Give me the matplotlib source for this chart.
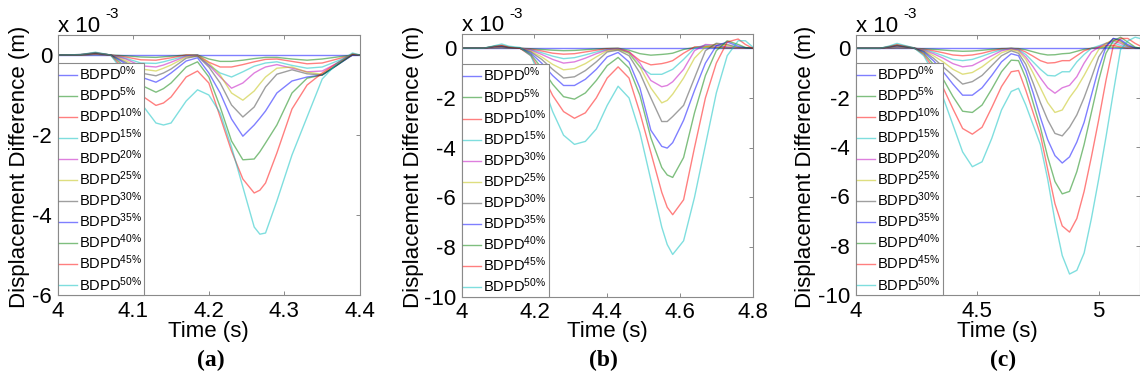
import numpy as np
import matplotlib
matplotlib.use('Agg')
import matplotlib.pyplot as plt

plt.rcParams['font.family'] = ['Liberation Sans', 'DejaVu Sans']
plt.rcParams['mathtext.fontset'] = 'custom'
plt.rcParams['mathtext.rm'] = 'Liberation Sans'
plt.rcParams['mathtext.default'] = 'regular'
plt.rcParams['axes.unicode_minus'] = False

# ---------------- data (x 1e-3 m) ----------------
pct_a = ['0', '5', '10', '15', '20', '25', '30', '35', '40', '45', '50']
pct_b = ['0', '5', '10', '15', '30', '25', '30', '35', '40', '45', '50']
pct_c = ['0', '5', '10', '15', '20', '25', '30', '35', '40', '45', '50']

# panel (a)
t_a = [4.00, 4.03, 4.05, 4.07, 4.09, 4.11, 4.13, 4.14, 4.15, 4.17, 4.185, 4.20, 4.215,
       4.23, 4.245, 4.26, 4.2675, 4.275, 4.29, 4.31, 4.33, 4.35, 4.37, 4.39, 4.40]
a_00 = [0, 0, 0, 0, 0, 0, 0, 0, 0, 0, 0, 0, 0, 0, 0, 0, 0, 0, 0, 0, 0, 0, 0, 0, 0]
a_05 = [0, 0.0, 0.01, 0.0, -0.02, -0.05, -0.06, -0.045, -0.03, 0.0, 0.0, -0.1, -0.16, -0.16, -0.13, -0.09, -0.075, -0.06, -0.06, -0.1, -0.13, -0.1, -0.05, 0.0, 0.0]
a_10 = [0, 0.0, 0.02, 0.0, -0.05, -0.12, -0.13, -0.1, -0.07, 0.0, 0.0, -0.18, -0.3, -0.3, -0.24, -0.17, -0.14, -0.11, -0.1, -0.16, -0.22, -0.2, -0.1, 0.0, 0.0]
a_15 = [0, 0.0, 0.03, 0.0, -0.08, -0.2, -0.21, -0.17, -0.12, -0.02, 0.0, -0.25, -0.45, -0.55, -0.42, -0.28, -0.24, -0.2, -0.17, -0.26, -0.33, -0.3, -0.15, 0.0, 0.0]
a_20 = [0, 0.0, 0.03, 0.0, -0.1, -0.27, -0.3, -0.25, -0.18, -0.03, -0.01, -0.25, -0.55, -0.83, -0.7, -0.45, -0.37, -0.3, -0.24, -0.33, -0.42, -0.4, -0.2, 0.0, 0.0]
a_25 = [0, 0.0, 0.04, 0.0, -0.14, -0.35, -0.4, -0.33, -0.25, -0.05, -0.02, -0.2, -0.5, -0.95, -1.13, -0.9, -0.72, -0.55, -0.33, -0.3, -0.43, -0.48, -0.23, 0.0, 0.0]
a_30 = [0, 0.0, 0.04, 0.0, -0.18, -0.45, -0.52, -0.45, -0.35, -0.08, -0.03, -0.3, -0.7, -1.25, -1.55, -1.3, -1.05, -0.8, -0.48, -0.37, -0.47, -0.5, -0.25, 0.0, 0.0]
a_35 = [0, 0.01, 0.05, 0.0, -0.22, -0.55, -0.68, -0.58, -0.45, -0.15, -0.07, -0.45, -0.95, -1.6, -2.03, -1.75, -1.58, -1.4, -0.95, -0.65, -0.55, -0.5, -0.25, 0.0, 0.0]
a_40 = [0, 0.01, 0.05, 0.0, -0.3, -0.75, -0.93, -0.84, -0.7, -0.3, -0.17, -0.55, -1.3, -2.15, -2.62, -2.6, -2.42, -2.2, -1.75, -0.95, -0.58, -0.5, -0.25, 0.02, 0.0]
a_45 = [0, 0.01, 0.06, 0.0, -0.4, -1.0, -1.26, -1.2, -1.05, -0.55, -0.4, -0.7, -1.55, -2.4, -3.1, -3.45, -3.38, -3.2, -2.45, -1.35, -0.75, -0.45, -0.2, 0.03, 0.0]
a_50 = [0, 0.01, 0.07, 0.0, -0.5, -1.2, -1.7, -1.75, -1.7, -1.15, -0.87, -1.0, -1.45, -2.3, -3.3, -4.3, -4.48, -4.45, -3.65, -2.5, -1.55, -0.6, -0.2, 0.05, 0.0]

# panel (b)
t_b = [4.00, 4.06, 4.09, 4.11, 4.13, 4.16, 4.19, 4.22, 4.25, 4.28, 4.31, 4.34, 4.37, 4.40,
       4.43, 4.46, 4.49, 4.52, 4.55, 4.565, 4.58, 4.61, 4.64, 4.67, 4.70, 4.73, 4.76, 4.78, 4.80]
b_00 = [0, 0, 0, 0, 0, 0, 0, 0, 0, 0, 0, 0, 0, 0, 0, 0, 0, 0, 0, 0, 0, 0, 0, 0, 0, 0, 0, 0, 0]
b_05 = [0, 0.0, 0.01, 0.015, 0.0, 0.0, -0.02, -0.05, -0.08, -0.1, -0.09, -0.06, -0.03, -0.01, 0.0, -0.08, -0.22, -0.28, -0.25, -0.23, -0.2, -0.05, 0.03, 0.04, 0.02, 0.0, 0.0, 0.0, 0.0]
b_10 = [0, 0.0, 0.02, 0.03, 0.01, 0.0, -0.04, -0.11, -0.2, -0.24, -0.22, -0.15, -0.08, -0.02, -0.01, -0.15, -0.5, -0.67, -0.62, -0.57, -0.5, -0.2, 0.05, 0.08, 0.05, 0.02, 0.0, 0.0, 0.0]
b_15 = [0, 0.0, 0.03, 0.04, 0.01, 0.0, -0.06, -0.18, -0.32, -0.42, -0.38, -0.27, -0.15, -0.05, -0.02, -0.2, -0.75, -1.05, -1.05, -0.95, -0.85, -0.45, 0.0, 0.12, 0.1, 0.03, 0.0, 0.0, 0.0]
b_20 = [0, 0.0, 0.04, 0.05, 0.02, 0.0, -0.08, -0.25, -0.45, -0.6, -0.55, -0.4, -0.22, -0.07, -0.03, -0.15, -0.6, -1.3, -1.55, -1.5, -1.35, -0.85, -0.1, 0.15, 0.13, 0.05, 0.0, 0.0, 0.0]
b_25 = [0, 0.0, 0.05, 0.06, 0.02, 0.0, -0.12, -0.35, -0.65, -0.87, -0.82, -0.62, -0.35, -0.1, -0.05, -0.2, -0.75, -1.6, -2.2, -2.1, -1.85, -1.2, -0.4, 0.05, 0.17, 0.1, 0.02, 0.0, 0.0]
b_30 = [0, 0.0, 0.06, 0.07, 0.02, 0.0, -0.15, -0.45, -0.85, -1.2, -1.15, -0.9, -0.55, -0.15, -0.08, -0.3, -1.0, -2.0, -2.95, -2.95, -2.75, -2.3, -1.2, -0.1, 0.2, 0.15, 0.03, 0.0, 0.0]
b_35 = [0, 0.0, 0.07, 0.08, 0.03, 0.0, -0.2, -0.6, -1.1, -1.5, -1.5, -1.25, -0.85, -0.35, -0.17, -0.55, -1.6, -3.3, -3.95, -4.02, -3.8, -2.9, -1.7, -0.6, 0.1, 0.25, 0.08, 0.02, 0.0]
b_40 = [0, 0.0, 0.08, 0.1, 0.04, 0.0, -0.25, -0.8, -1.45, -1.95, -2.05, -1.8, -1.3, -0.7, -0.37, -0.8, -1.9, -3.6, -4.8, -5.1, -5.2, -4.4, -2.6, -1.1, -0.1, 0.3, 0.15, 0.03, 0.0]
b_45 = [0, 0.0, 0.08, 0.12, 0.05, 0.0, -0.3, -1.0, -1.9, -2.55, -2.82, -2.6, -2.0, -1.2, -0.75, -1.2, -2.6, -4.2, -5.8, -6.4, -6.7, -6.1, -4.0, -2.0, -0.6, 0.25, 0.37, 0.15, 0.0]
b_50 = [0, 0.0, 0.1, 0.17, 0.08, 0.03, -0.3, -1.3, -2.55, -3.5, -3.87, -3.75, -3.25, -2.3, -1.53, -2.0, -3.4, -5.3, -7.2, -7.9, -8.3, -7.75, -6.0, -3.9, -1.8, -0.3, 0.3, 0.3, 0.05]

# panel (c)
t_c = [4.00, 4.10, 4.14, 4.17, 4.20, 4.24, 4.28, 4.32, 4.36, 4.40, 4.44, 4.48, 4.52, 4.56, 4.60, 4.64, 4.67,
       4.70, 4.73, 4.76, 4.79, 4.82, 4.85, 4.88, 4.91, 4.94, 4.97, 5.00, 5.03, 5.06, 5.09, 5.12, 5.15, 5.17]
c_00 = [0, 0, 0, 0, 0, 0, 0, 0, 0, 0, 0, 0, 0, 0, 0, 0, 0, 0, 0, 0, 0, 0, 0, 0, 0, 0, 0, 0, 0, 0, 0, 0, 0, 0]
c_05 = [0, 0.0, 0.005, 0.015, 0.01, 0.0, -0.02, -0.04, -0.07, -0.1, -0.12, -0.11, -0.08, -0.04, -0.01, 0.0, -0.01, -0.06, -0.14, -0.22, -0.27, -0.26, -0.22, -0.2, -0.12, -0.04, 0.0, 0.02, 0.05, 0.05, 0.02, 0.0, 0.0, 0.0]
c_10 = [0, 0.0, 0.01, 0.03, 0.02, 0.0, -0.04, -0.1, -0.18, -0.27, -0.3, -0.27, -0.2, -0.1, -0.03, 0.0, -0.03, -0.15, -0.32, -0.5, -0.6, -0.58, -0.5, -0.5, -0.3, -0.1, 0.0, 0.05, 0.12, 0.12, 0.06, 0.0, 0.0, 0.0]
c_15 = [0, 0.0, 0.02, 0.05, 0.03, 0.0, -0.06, -0.16, -0.3, -0.45, -0.5, -0.45, -0.32, -0.18, -0.06, 0.0, -0.05, -0.25, -0.55, -0.85, -1.1, -1.12, -0.95, -0.95, -0.55, -0.25, 0.0, 0.1, 0.2, 0.22, 0.12, 0.03, 0.0, 0.0]
c_20 = [0, 0.0, 0.03, 0.07, 0.04, 0.01, -0.08, -0.22, -0.4, -0.62, -0.75, -0.7, -0.5, -0.3, -0.1, -0.02, -0.08, -0.35, -0.75, -1.2, -1.6, -1.82, -1.6, -1.5, -1.15, -0.6, -0.15, 0.05, 0.2, 0.3, 0.2, 0.05, 0.0, 0.0]
c_25 = [0, 0.0, 0.04, 0.08, 0.05, 0.01, -0.1, -0.3, -0.55, -0.85, -1.05, -0.98, -0.75, -0.45, -0.18, -0.05, -0.12, -0.45, -1.0, -1.6, -2.2, -2.6, -2.5, -2.0, -1.6, -1.1, -0.55, -0.05, 0.2, 0.35, 0.25, 0.08, 0.0, 0.0]
c_30 = [0, 0.0, 0.05, 0.1, 0.06, 0.01, -0.12, -0.4, -0.75, -1.1, -1.45, -1.35, -1.1, -0.7, -0.3, -0.1, -0.2, -0.65, -1.4, -2.2, -2.9, -3.45, -3.55, -3.2, -2.7, -2.0, -1.2, -0.35, 0.1, 0.4, 0.3, 0.1, 0.0, 0.0]
c_35 = [0, 0.0, 0.06, 0.11, 0.07, 0.01, -0.15, -0.5, -0.95, -1.45, -1.9, -1.9, -1.6, -1.1, -0.55, -0.22, -0.3, -0.9, -1.8, -2.8, -3.7, -4.35, -4.65, -4.4, -3.8, -3.0, -1.9, -0.8, 0.05, 0.4, 0.35, 0.15, 0.02, 0.0]
c_40 = [0, 0.0, 0.07, 0.13, 0.08, 0.01, -0.2, -0.65, -1.25, -1.95, -2.55, -2.6, -2.3, -1.65, -0.95, -0.48, -0.5, -1.2, -2.2, -3.2, -4.4, -5.4, -5.9, -5.8, -5.0, -3.9, -2.6, -1.3, -0.2, 0.3, 0.45, 0.25, 0.05, 0.0]
c_45 = [0, 0.0, 0.08, 0.15, 0.1, 0.02, -0.25, -0.8, -1.6, -2.45, -3.25, -3.48, -3.2, -2.4, -1.55, -0.95, -0.9, -1.7, -2.6, -3.5, -4.9, -6.3, -7.2, -7.45, -6.9, -5.8, -4.4, -2.9, -1.3, 0.1, 0.4, 0.4, 0.2, 0.1]
c_50 = [0, 0.0, 0.1, 0.2, 0.12, 0.02, -0.3, -1.0, -2.0, -3.1, -4.2, -4.8, -4.6, -3.65, -2.5, -1.75, -1.62, -2.3, -3.1, -3.9, -5.3, -7.0, -8.4, -9.15, -9.0, -8.3, -6.9, -5.3, -3.6, -1.8, -0.05, 0.3, 0.45, 0.4]

# old matlab colour order
cols = [(0, 0, 1), (0, 0.5, 0), (1, 0, 0), (0, 0.75, 0.75), (0.75, 0, 0.75),
        (0.75, 0.75, 0), (0.25, 0.25, 0.25)]
frame = '#8a8a8a'

fig = plt.figure(figsize=(11.4, 3.81), dpi=100)
W, H = 1140., 381.


def px_axes(l, t, r, b):
    return fig.add_axes([l / W, 1 - b / H, (r - l) / W, (b - t) / H])


panels = [
    dict(box=(57.7, 35, 360, 295), t=t_a, ys=[a_00, a_05, a_10, a_15, a_20, a_25, a_30, a_35, a_40, a_45, a_50],
         pct=pct_a, xlim=(4, 4.4), ylim=(-6, 0.5), xt=[4, 4.1, 4.2, 4.3, 4.4], xtl=['4', '4.1', '4.2', '4.3', '4.4'],
         yt=[-6, -4, -2, 0], leg_w=86.0, ylab_x=20, cap='(a)', cap_x=211),
    dict(box=(461.7, 34.3, 752.7, 296.7), t=t_b, ys=[b_00, b_05, b_10, b_15, b_20, b_25, b_30, b_35, b_40, b_45, b_50],
         pct=pct_b, xlim=(4, 4.8), ylim=(-10, 0.56), xt=[4, 4.2, 4.4, 4.6, 4.8], xtl=['4', '4.2', '4.4', '4.6', '4.8'],
         yt=[-10, -8, -6, -4, -2, 0], leg_w=87.3, ylab_x=413, cap='(b)', cap_x=603),
    dict(box=(855.7, 35, 1140, 295), t=t_c, ys=[c_00, c_05, c_10, c_15, c_20, c_25, c_30, c_35, c_40, c_45, c_50],
         pct=pct_c, xlim=(4, 5.17), ylim=(-10, 0.54), xt=[4, 4.5, 5], xtl=['4', '4.5', '5'],
         yt=[-10, -8, -6, -4, -2, 0], leg_w=87.6, ylab_x=805, cap='(c)', cap_x=1003),
]

for p in panels:
    l, t, r, b = p['box']
    ax = px_axes(l, t, r, b)
    for i, y in enumerate(p['ys']):
        ax.plot(p['t'], y, color=cols[i % 7], lw=1.0, alpha=0.5,
                label=r'BDPD$^{%s\%%}$' % p['pct'][i])
    ax.set_xlim(*p['xlim'])
    ax.set_ylim(*p['ylim'])
    ax.set_xticks(p['xt'])
    ax.set_xticklabels(p['xtl'])
    ax.set_yticks(p['yt'])
    ax.set_yticklabels([str(v) for v in p['yt']])
    ax.tick_params(direction='in', length=3, width=0.7, color=frame, labelsize=16,
                   top=True, right=True)
    ax.tick_params(axis='x', pad=4)
    ax.tick_params(axis='y', pad=4)
    for s in ax.spines.values():
        s.set_color(frame)
        s.set_linewidth(0.8)
    leg = ax.legend(loc='lower left', bbox_to_anchor=(0, 0, p['leg_w'] / (r - l), 1), mode='expand',
                    borderaxespad=0, fontsize=10.5, frameon=True, fancybox=False, framealpha=1,
                    edgecolor=frame, handlelength=1.2, handletextpad=0.15, labelspacing=0.17,
                    borderpad=0.1)
    leg.get_frame().set_linewidth(0.8)
    ax.annotate('x 10', xy=(0, 1), xycoords='axes fraction', xytext=(0, 2.5),
                textcoords='offset points', fontsize=16, ha='left', va='baseline')
    ax.annotate('-3', xy=(0, 1), xycoords='axes fraction', xytext=(34, 12),
                textcoords='offset points', fontsize=11, ha='left', va='baseline')
    fig.text(p['ylab_x'] / W, 1 - 167 / H, 'Displacement Difference (m)', rotation=90,
             ha='center', va='center', fontsize=16)
    fig.text(((l + r) / 2) / W, 1 - 332 / H, 'Time (s)', ha='center', va='center', fontsize=16)
    fig.text(p['cap_x'] / W, 1 - 360 / H, p['cap'], ha='center', va='center', fontsize=17,
             fontweight='bold', family='Liberation Serif')

fig.savefig('out.png', dpi=100)
